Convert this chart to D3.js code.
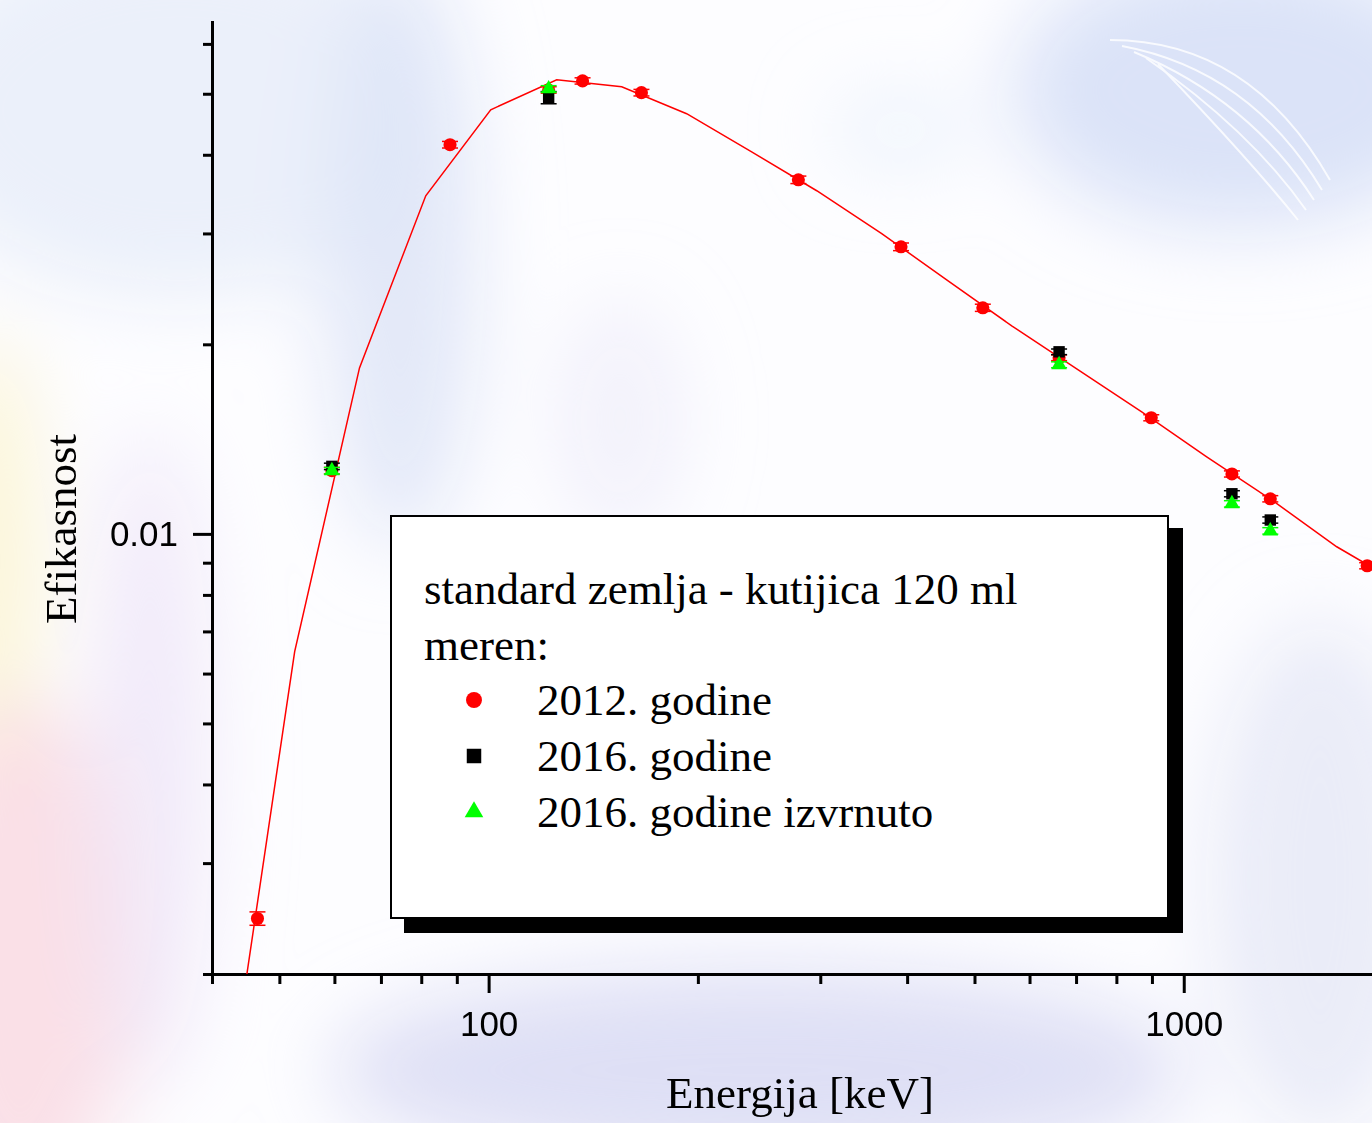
<!DOCTYPE html>
<html>
<head>
<meta charset="utf-8">
<script src="https://cdn.jsdelivr.net/npm/d3@7"></script>
<style>
  body { margin: 0; background: #fff; }
  svg { display: block; }
  .axis path, .axis line { stroke: #000; stroke-width: 3; }
  .axis text { font-family: 'Liberation Sans', Arial, sans-serif; font-size: 35px; fill: #000; }
  .serif { font-family: 'Liberation Serif', 'Times New Roman', serif; font-size: 45px; fill: #000; }
</style>
</head>
<body>
<svg id="chart" width="1372" height="1123"></svg>
<script>
// measured points, 2012
const energy2012 = [46.5, 59.5, 88, 122, 136.5, 165.9, 279, 392, 514, 661.7, 898, 1173, 1332, 1836]
const eff2012 = [0.00245, 0.0126, 0.0415, 0.0507, 0.0524, 0.0502, 0.0365, 0.02857, 0.02286, 0.01904, 0.01529, 0.01245, 0.01137, 0.0089]
const err2012 = [0.00006, 0.00015, 0.0005, 0.0006, 0.0006, 0.0006, 0.0005, 0.0004, 0.0003, 0.0002, 0.00017, 0.00014, 0.00013, 0.0001]

// measured points, 2016
const energy2016 = [59.5, 122, 661.7, 1173, 1332]
const eff2016 = [0.0128, 0.0493, 0.01946, 0.01158, 0.01052]
const err2016 = [0.00015, 0.0011, 0.0002, 0.00013, 0.00012]
const eff2016inv = [0.0126, 0.0509, 0.01856, 0.01116, 0.01011]
const err2016inv = [0.00015, 0.0006, 0.0002, 0.00013, 0.00012]

// fitted curve (vertices)
const fitEnergy = [44.9, 52.6, 65.2, 81.2, 100.7, 125.3, 155.4, 192.7, 239, 296.5, 367.7, 456, 565.6, 701.5, 870, 1079, 1338, 1660, 2059]
const fitEff = [0.002, 0.0065, 0.01835, 0.03443, 0.04716, 0.05262, 0.0513, 0.04648, 0.04044, 0.03507, 0.02997, 0.02532, 0.0214, 0.01828, 0.01562, 0.01325, 0.01132, 0.00954, 0.0083]

// ticks
const xMajorTicks = [100, 1000]
const xMinorTicks = [40, 50, 60, 70, 80, 90, 200, 300, 400, 500, 600, 700, 800, 900, 2000]
const yMajorTicks = [0.01]
const yMinorTicks = [0.002, 0.003, 0.004, 0.005, 0.006, 0.007, 0.008, 0.009, 0.02, 0.03, 0.04, 0.05, 0.06]

const legendTitle = ['standard zemlja - kutijica 120 ml', 'meren:']
const legendLabels = ['2012. godine', '2016. godine', '2016. godine izvrnuto']

let svg = d3.select('#chart')
let defs = svg.append('defs')

// soft watercolour background
defs.append('filter')
    .attr('id', 'soft')
    .attr('x', '-100%').attr('y', '-100%')
    .attr('width', '300%').attr('height', '300%')
  .append('feGaussianBlur')
    .attr('stdDeviation', 40)

svg.append('rect')
  .attr('width', 1372)
  .attr('height', 1123)
  .attr('fill', '#fdfdff')

let blobs = [
  { cx: 180, cy: 110, rx: 280, ry: 190, fill: '#ebf0fa', o: 1 },
  { cx: -10, cy: 560, rx: 45, ry: 230, fill: '#fbf3c8', o: 0.8 },
  { cx: 20, cy: 960, rx: 110, ry: 260, fill: '#f8d3dd', o: 0.7 },
  { cx: 150, cy: 760, rx: 60, ry: 330, fill: '#ece2f7', o: 0.7 },
  { cx: 400, cy: 250, rx: 75, ry: 300, fill: '#dde4f7', o: 0.85 },
  { cx: 620, cy: 420, rx: 60, ry: 120, fill: '#e8e5f7', o: 0.5 },
  { cx: 760, cy: 1070, rx: 430, ry: 100, fill: '#dadbf4', o: 0.9 },
  { cx: 1320, cy: 880, rx: 110, ry: 260, fill: '#e3e6f6', o: 0.75 },
  { cx: 1240, cy: 90, rx: 230, ry: 140, fill: '#d9e2f8', o: 0.95 },
  { cx: 900, cy: 130, rx: 70, ry: 35, fill: '#e6f0fb', o: 0.7 }
]

svg.append('g')
    .attr('filter', 'url(#soft)')
  .selectAll('ellipse').data(blobs)
  .enter().append('ellipse')
    .attr('cx', d => d.cx)
    .attr('cy', d => d.cy)
    .attr('rx', d => d.rx)
    .attr('ry', d => d.ry)
    .attr('fill', d => d.fill)
    .attr('opacity', d => d.o)

// a few pale swirls top right
svg.append('g')
    .attr('fill', 'none')
    .attr('stroke', '#ffffff')
    .attr('stroke-width', 2)
    .attr('opacity', 0.8)
  .selectAll('path').data([0, 1, 2, 3, 4])
  .enter().append('path')
    .attr('d', i => `M ${ 1110 + i * 12 } ${ 40 + i * 6 } Q ${ 1250 } ${ 40 + i * 30 } ${ 1330 - i * 8 } ${ 180 + i * 10 }`)

// scales
let x = d3.scaleLog().domain([40, 2000]).range([212, 1393])
let y = d3.scaleLog().domain([0.002, 0.065]).range([974, 22])

defs.append('clipPath')
    .attr('id', 'plot-clip')
  .append('rect')
    .attr('x', 212).attr('y', 22)
    .attr('width', 1181).attr('height', 952)

// axes
let yMinor = svg.append('g')
  .attr('class', 'axis')
  .attr('transform', 'translate(212,0)')
  .call(d3.axisLeft(y).tickValues(yMinorTicks).tickSize(9).tickSizeOuter(0).tickFormat(''))
yMinor.select('.domain').remove()

let yMajor = svg.append('g')
  .attr('class', 'axis')
  .attr('transform', 'translate(212,0)')
  .call(d3.axisLeft(y).tickValues(yMajorTicks).tickSize(19).tickSizeOuter(0).tickPadding(15).tickFormat(d3.format('.2')))
yMajor.select('.domain').attr('stroke-linecap', 'square')

let xMinor = svg.append('g')
  .attr('class', 'axis')
  .attr('transform', 'translate(0,974)')
  .call(d3.axisBottom(x).tickValues(xMinorTicks).tickSize(10).tickSizeOuter(0).tickFormat(''))
xMinor.select('.domain').remove()

let xMajor = svg.append('g')
  .attr('class', 'axis')
  .attr('transform', 'translate(0,974)')
  .call(d3.axisBottom(x).tickValues(xMajorTicks).tickSize(19).tickSizeOuter(0).tickPadding(18).tickFormat(d3.format('d')))
xMajor.select('.domain').attr('stroke-linecap', 'square')

svg.selectAll('.axis text').attr('font-family', null).attr('font-size', null)

// axis titles
svg.append('text')
  .attr('class', 'serif')
  .attr('x', 800)
  .attr('y', 1108)
  .attr('text-anchor', 'middle')
  .text('Energija [keV]')

svg.append('text')
  .attr('class', 'serif')
  .attr('transform', 'translate(76,529) rotate(-90)')
  .attr('text-anchor', 'middle')
  .text('Efikasnost')

// fit curve
let plot = svg.append('g').attr('clip-path', 'url(#plot-clip)')

let line = d3.line()
  .x(d => x(d[0]))
  .y(d => y(d[1]))

plot.append('path')
  .datum(d3.zip(fitEnergy, fitEff))
  .attr('d', line)
  .attr('fill', 'none')
  .attr('stroke', '#ff0000')
  .attr('stroke-width', 1.5)

let drawSeries = (energy, eff, err, color, symbolType, size) => {
  let rows = d3.zip(energy, eff, err)
  let g = svg.append('g')

  let bars = g.selectAll('g.err').data(rows)
    .enter().append('g')
      .attr('class', 'err')
      .attr('stroke', color)
      .attr('stroke-width', 1.5)

  bars.append('line')
    .attr('x1', d => x(d[0])).attr('x2', d => x(d[0]))
    .attr('y1', d => y(d[1] - d[2])).attr('y2', d => y(d[1] + d[2]))
  bars.append('line')
    .attr('x1', d => x(d[0]) - 8).attr('x2', d => x(d[0]) + 8)
    .attr('y1', d => y(d[1] - d[2])).attr('y2', d => y(d[1] - d[2]))
  bars.append('line')
    .attr('x1', d => x(d[0]) - 8).attr('x2', d => x(d[0]) + 8)
    .attr('y1', d => y(d[1] + d[2])).attr('y2', d => y(d[1] + d[2]))

  g.selectAll('path.pt').data(rows)
    .enter().append('path')
      .attr('class', 'pt')
      .attr('d', d3.symbol().type(symbolType).size(size))
      .attr('transform', d => `translate(${ x(d[0]) },${ y(d[1]) })`)
      .attr('fill', color)
}

drawSeries(energy2012, eff2012, err2012, '#ff0000', d3.symbolCircle, 135)
drawSeries(energy2016, eff2016, err2016, '#000000', d3.symbolSquare, 130)
drawSeries(energy2016, eff2016inv, err2016inv, '#00ff00', d3.symbolTriangle, 105)

// legend
let legend = svg.append('g')

legend.append('rect')
  .attr('x', 404).attr('y', 528)
  .attr('width', 779).attr('height', 405)
  .attr('fill', '#000')

legend.append('rect')
  .attr('x', 391).attr('y', 516)
  .attr('width', 777).attr('height', 402)
  .attr('fill', '#fff')
  .attr('stroke', '#000')
  .attr('stroke-width', 2)

legend.selectAll('text.head').data(legendTitle)
  .enter().append('text')
    .attr('class', 'serif head')
    .attr('x', 424)
    .attr('y', (d, i) => 604 + i * 56)
    .text(d => d)

let legendSymbols = [
  { type: d3.symbolCircle, size: 200, color: '#ff0000' },
  { type: d3.symbolSquare, size: 210, color: '#000000' },
  { type: d3.symbolTriangle, size: 150, color: '#00ff00' }
]

let entries = legend.selectAll('g.entry').data(legendLabels)
  .enter().append('g')
    .attr('class', 'entry')
    .attr('transform', (d, i) => `translate(0,${ 715 + i * 56 })`)

entries.append('path')
  .attr('d', (d, i) => d3.symbol().type(legendSymbols[i].type).size(legendSymbols[i].size)())
  .attr('transform', 'translate(474,-15)')
  .attr('fill', (d, i) => legendSymbols[i].color)

entries.append('text')
  .attr('class', 'serif')
  .attr('x', 537)
  .text(d => d)
</script>
</body>
</html>
